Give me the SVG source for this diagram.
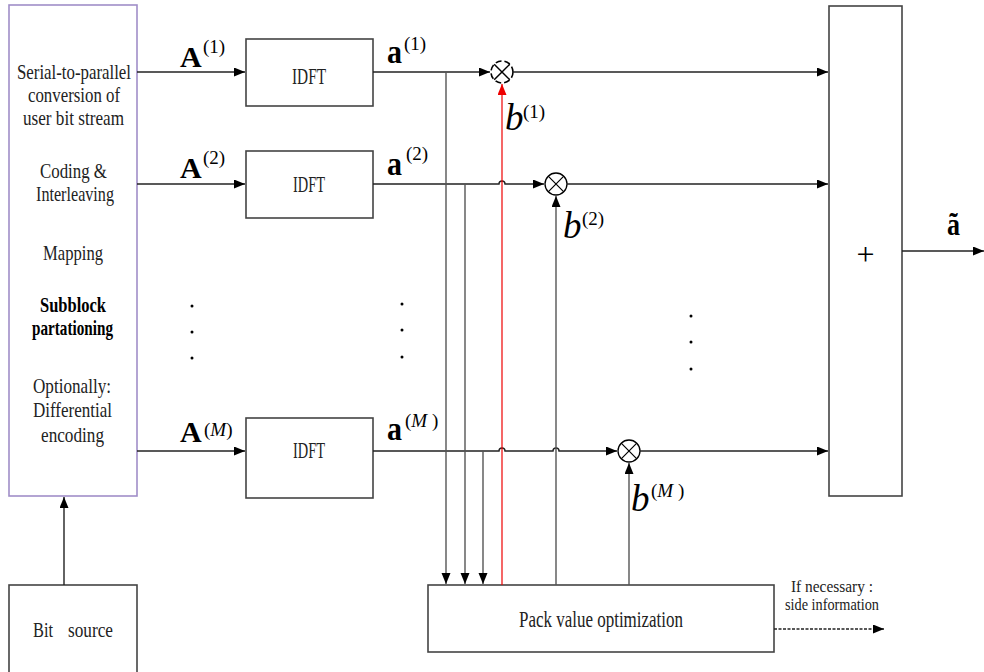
<svg xmlns="http://www.w3.org/2000/svg" width="984" height="672" viewBox="0 0 984 672">
<defs>
<marker id="ah" markerUnits="userSpaceOnUse" markerWidth="12" markerHeight="10" refX="11" refY="4.5" orient="auto"><path d="M0,0 L11,4.5 L0,9 z" fill="#000"/></marker>
<marker id="ahr" markerUnits="userSpaceOnUse" markerWidth="12" markerHeight="10" refX="11" refY="4.5" orient="auto"><path d="M0,0 L11,4.5 L0,9 z" fill="#e00"/></marker>
<style>
.box{fill:#fff;stroke:#444;stroke-width:1.6}
.ln{fill:none;stroke:#222;stroke-width:1.4}
.gl{fill:none;stroke:#555;stroke-width:1.4}
.t{font-family:"Liberation Serif",serif;fill:#222}
.lb{font-family:"Liberation Serif",serif;font-size:21px;fill:#222}
.bA{font-family:"Liberation Serif",serif;font-weight:bold;font-size:30px;fill:#000}
.sup{font-family:"Liberation Serif",serif;font-size:19px;fill:#000}
.bi{font-family:"Liberation Serif",serif;font-style:italic;font-size:37px;fill:#000}
</style>
</defs>

<g id="left-box">
<rect x="9" y="5" width="128" height="491" fill="#fff" stroke="#a08ec8" stroke-width="1.6"/>
<text class="lb" x="17" y="79" textLength="114" lengthAdjust="spacingAndGlyphs">Serial-to-parallel</text>
<text class="lb" x="28" y="102" textLength="92" lengthAdjust="spacingAndGlyphs">conversion of</text>
<text class="lb" x="23" y="125" textLength="101" lengthAdjust="spacingAndGlyphs">user bit stream</text>
<text class="lb" x="40" y="178" textLength="67" lengthAdjust="spacingAndGlyphs">Coding &amp;</text>
<text class="lb" x="36" y="201" textLength="78" lengthAdjust="spacingAndGlyphs">Interleaving</text>
<text class="lb" x="43" y="260" textLength="60" lengthAdjust="spacingAndGlyphs">Mapping</text>
<text class="lb" x="40" y="312" textLength="66" lengthAdjust="spacingAndGlyphs" style="fill:#000;font-weight:bold">Subblock</text>
<text class="lb" x="32" y="335" textLength="81" lengthAdjust="spacingAndGlyphs" style="fill:#000;font-weight:bold">partationing</text>
<text class="lb" x="33" y="393" textLength="78" lengthAdjust="spacingAndGlyphs">Optionally:</text>
<text class="lb" x="33" y="417" textLength="79" lengthAdjust="spacingAndGlyphs">Differential</text>
<text class="lb" x="41" y="442" textLength="63" lengthAdjust="spacingAndGlyphs">encoding</text>
</g>

<g id="bit-source">
<rect class="box" x="9" y="585" width="128" height="100"/>
<text class="lb" x="33" y="637" textLength="20" lengthAdjust="spacingAndGlyphs">Bit</text>
<text class="lb" x="68" y="637" textLength="45" lengthAdjust="spacingAndGlyphs">source</text>
</g>

<g id="idft1">
<rect class="box" x="246" y="39" width="127" height="67"/>
<text class="lb" x="292" y="84" textLength="34" lengthAdjust="spacingAndGlyphs" style="font-size:23px">IDFT</text>
</g>
<g id="idft2">
<rect class="box" x="246" y="151" width="127" height="67"/>
<text class="lb" x="293" y="192" textLength="32" lengthAdjust="spacingAndGlyphs" style="font-size:23px">IDFT</text>
</g>
<g id="idftM">
<rect class="box" x="246" y="418" width="127" height="80"/>
<text class="lb" x="293" y="458" textLength="32" lengthAdjust="spacingAndGlyphs" style="font-size:23px">IDFT</text>
</g>

<g id="sum">
<rect class="box" x="829" y="6" width="73" height="490"/>
<text x="865.5" y="265" text-anchor="middle" style="font-family:'Liberation Serif',serif;font-size:32px;fill:#000">+</text>
</g>

<g id="pack">
<rect class="box" x="428" y="585" width="346" height="67"/>
<text class="lb" x="519" y="627" textLength="164" lengthAdjust="spacingAndGlyphs" style="font-size:23px">Pack value optimization</text>
</g>

<g id="mult1">
<circle cx="502" cy="72" r="11" fill="#fff" stroke="#000" stroke-width="1.6" stroke-dasharray="6,3"/>
<path d="M494.2,64.2 L509.8,79.8 M509.8,64.2 L494.2,79.8" stroke="#000" stroke-width="1.5"/>
</g>
<g id="mult2">
<circle cx="556" cy="184" r="11" fill="#fff" stroke="#000" stroke-width="1.3"/>
<path d="M548.2,176.2 L563.8,191.8 M563.8,176.2 L548.2,191.8" stroke="#000" stroke-width="1.2"/>
</g>
<g id="multM">
<circle cx="629" cy="451" r="11" fill="#fff" stroke="#000" stroke-width="1.3"/>
<path d="M621.2,443.2 L636.8,458.8 M636.8,443.2 L621.2,458.8" stroke="#000" stroke-width="1.2"/>
</g>

<g id="connectors">
<path class="ln" d="M64,585 L64,497" marker-end="url(#ah)"/>
<path class="ln" d="M137,72 L245,72" marker-end="url(#ah)"/>
<path class="ln" d="M137,184 L245,184" marker-end="url(#ah)"/>
<path class="ln" d="M137,451 L245,451" marker-end="url(#ah)"/>
<path class="ln" d="M373,72 L490,72" marker-end="url(#ah)"/>
<path class="ln" d="M513,72 L828,72" marker-end="url(#ah)"/>
<path class="ln" d="M373,184 L499,184 A3,3 0 0 1 505,184 L544,184" marker-end="url(#ah)"/>
<path class="ln" d="M567,184 L828,184" marker-end="url(#ah)"/>
<path class="ln" d="M373,451 L499,451 A3,3 0 0 1 505,451 L553,451 A3,3 0 0 1 559,451 L617,451" marker-end="url(#ah)"/>
<path class="ln" d="M640,451 L828,451" marker-end="url(#ah)"/>
<path class="ln" d="M902,251 L984,251" marker-end="url(#ah)"/>
<path class="gl" d="M446,72 L446,584" marker-end="url(#ah)"/>
<path class="gl" d="M465,184 L465,584" marker-end="url(#ah)"/>
<path class="gl" d="M483,451 L483,584" marker-end="url(#ah)"/>
<path d="M502,585 L502,84" fill="none" stroke="#e00" stroke-width="1.2" marker-end="url(#ahr)"/>
<path class="gl" d="M556,585 L556,196" marker-end="url(#ah)"/>
<path class="gl" d="M629,585 L629,463" marker-end="url(#ah)"/>
<path class="ln" d="M774,629 L884,629" stroke-dasharray="3,1.5" marker-end="url(#ah)"/>
</g>

<g id="labels">
<text class="bA" x="180" y="67">A</text><text class="sup" x="203" y="53">(1)</text>
<text class="bA" x="180" y="178">A</text><text class="sup" x="203" y="164">(2)</text>
<text class="bA" x="180" y="442">A</text><text class="sup" x="204" y="436">(<tspan font-style="italic">M</tspan>)</text>
<text class="bA" x="387" y="63" style="font-size:33px" textLength="15" lengthAdjust="spacingAndGlyphs">a</text><text class="sup" x="404" y="50">(1)</text>
<text class="bA" x="387" y="175" style="font-size:33px" textLength="15" lengthAdjust="spacingAndGlyphs">a</text><text class="sup" x="406" y="160">(2)</text>
<text class="bA" x="387" y="440" style="font-size:33px" textLength="15" lengthAdjust="spacingAndGlyphs">a</text><text class="sup" x="405" y="427">(<tspan font-style="italic">M</tspan> )</text>
<text class="bA" x="947" y="235" style="font-size:32px" textLength="13" lengthAdjust="spacingAndGlyphs">ã</text>
<text class="bi" x="505" y="130">b</text><text class="sup" x="523" y="118">(1)</text>
<text class="bi" x="563" y="238">b</text><text class="sup" x="582" y="225">(2)</text>
<text class="bi" x="631" y="511">b</text><text class="sup" x="651" y="497">(<tspan font-style="italic">M</tspan> )</text>
<text class="t" x="791" y="592" style="font-size:17px" textLength="82" lengthAdjust="spacingAndGlyphs">If  necessary :</text>
<text class="t" x="785" y="610" style="font-size:17px" textLength="94" lengthAdjust="spacingAndGlyphs">side information</text>
</g>

<g id="dots" fill="#000">
<circle cx="192" cy="306" r="1.5"/><circle cx="192" cy="332" r="1.5"/><circle cx="192" cy="358" r="1.5"/>
<circle cx="402" cy="304" r="1.5"/><circle cx="402" cy="330" r="1.5"/><circle cx="402" cy="357" r="1.5"/>
<circle cx="691" cy="316" r="1.5"/><circle cx="691" cy="342" r="1.5"/><circle cx="691" cy="369" r="1.5"/>
</g>
</svg>
